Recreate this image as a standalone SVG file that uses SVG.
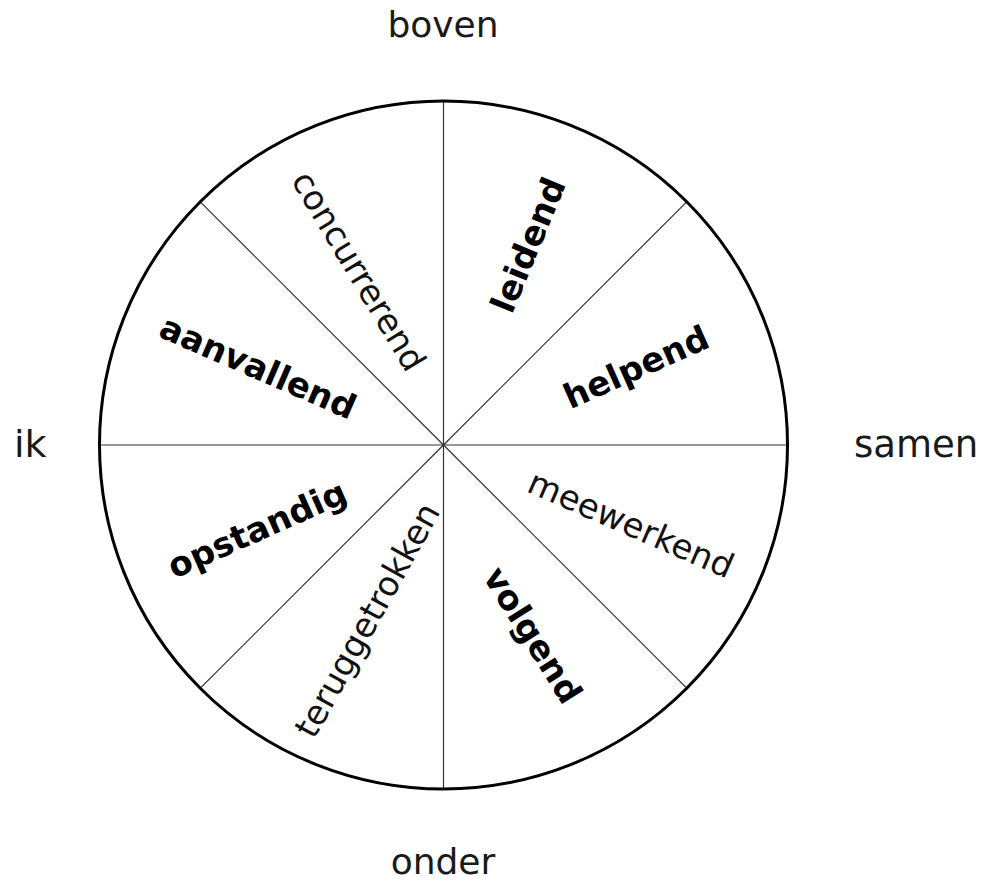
<svg xmlns="http://www.w3.org/2000/svg" width="984" height="883" viewBox="0 0 984 883">
<style>
.axis{font-family:"DejaVu Sans",sans-serif;font-size:36px;fill:#1a1a1a}
.b{font-family:"DejaVu Sans",sans-serif;font-size:34px;font-weight:bold;fill:#000}
.r{font-family:"DejaVu Sans",sans-serif;font-size:34px;fill:#111}
.spoke{stroke:#333;stroke-width:1.2;fill:none}
</style>
<rect width="984" height="883" fill="#fff"/>
<g id="connectors">
<line class="spoke" x1="443.5" y1="445" x2="443.5" y2="101"/>
<line class="spoke" x1="443.5" y1="445" x2="443.5" y2="789"/>
<line class="spoke" x1="443.5" y1="445" x2="99.5" y2="445"/>
<line class="spoke" x1="443.5" y1="445" x2="787.5" y2="445"/>
<line class="spoke" x1="443.5" y1="445" x2="200.3" y2="201.8"/>
<line class="spoke" x1="443.5" y1="445" x2="686.7" y2="201.8"/>
<line class="spoke" x1="443.5" y1="445" x2="200.3" y2="688.2"/>
<line class="spoke" x1="443.5" y1="445" x2="686.7" y2="688.2"/>
</g>
<g id="circle"><circle cx="443.5" cy="445" r="344" fill="none" stroke="#000" stroke-width="3"/></g>
<g id="boven"><text class="axis" x="443" y="37" text-anchor="middle">boven</text></g>
<g id="onder"><text class="axis" x="443" y="874" text-anchor="middle">onder</text></g>
<g id="ik"><text class="axis" x="14" y="457" style="font-size:38px">ik</text></g>
<g id="samen"><text class="axis" x="854" y="457" style="font-size:37px">samen</text></g>
<g id="concurrerend"><text class="r" transform="translate(359,271) rotate(59)" text-anchor="middle" dominant-baseline="central">concurrerend</text></g>
<g id="leidend"><text class="b" transform="translate(528,245) rotate(-67.5)" text-anchor="middle" dominant-baseline="central">leidend</text></g>
<g id="helpend"><text class="b" transform="translate(636,367) rotate(-24)" text-anchor="middle" dominant-baseline="central">helpend</text></g>
<g id="aanvallend"><text class="b" transform="translate(258,367) rotate(23.5)" text-anchor="middle" dominant-baseline="central">aanvallend</text></g>
<g id="opstandig"><text class="b" transform="translate(257,529) rotate(-24)" text-anchor="middle" dominant-baseline="central">opstandig</text></g>
<g id="teruggetrokken"><text class="r" transform="translate(367,620) rotate(-61)" text-anchor="middle" dominant-baseline="central">teruggetrokken</text></g>
<g id="meewerkend"><text class="r" transform="translate(631,524) rotate(23.5)" text-anchor="middle" dominant-baseline="central">meewerkend</text></g>
<g id="volgend"><text class="b" transform="translate(533,635) rotate(58)" text-anchor="middle" dominant-baseline="central">volgend</text></g>
</svg>
